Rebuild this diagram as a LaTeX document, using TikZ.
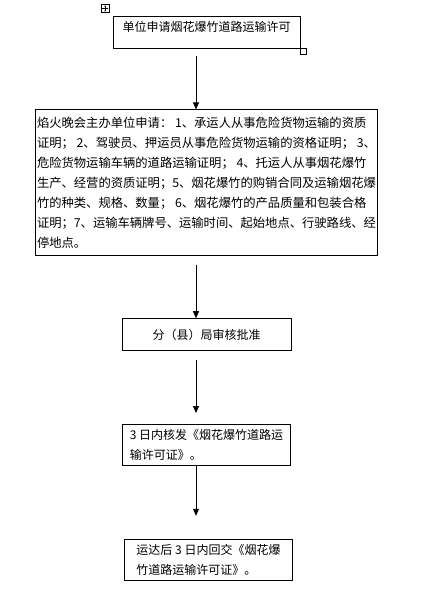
\documentclass[tikz,border=0pt]{standalone}
\usepackage{fontspec}
\setmainfont{Noto Sans CJK SC}
\usepackage{tikz}
\usetikzlibrary{arrows.meta,positioning}
\tikzstyle{process} = [rectangle, draw=black, line width=0.8pt, minimum width=168pt, minimum height=32pt, align=left, inner sep=0pt, font=\fontsize{12}{20}\selectfont]
\tikzstyle{arrow} = [line width=0.8pt,-{Triangle[length=7pt,width=6pt]}]
\tikzstyle{marker} = [rectangle, draw=black, line width=0.6pt, inner sep=0pt, minimum size=6pt]

\begin{document}
\begin{tikzpicture}[x=1pt, y=1pt]
\useasboundingbox (0,0) rectangle (431,-590);
\node (apply) [process, minimum width=187pt, text height=12.5pt, text depth=13.5pt, inner ysep=3pt] at (206.5,-32) {单位申请烟花爆竹道路运输许可};
\node (docs) [process, below=61pt of apply, minimum width=342pt, minimum height=146pt, font=\fontsize{12.3}{20}\selectfont] {焰火晚会主办单位申请：~1、承运人从事危险货物运输的资质\\证明；~2、驾驶员、押运员从事危险货物运输的资格证明；~3、\\危险货物运输车辆的道路运输证明；~4、托运人从事烟花爆竹\\生产、经营的资质证明；5、烟花爆竹的购销合同及运输烟花爆\\竹的种类、规格、数量；~6、烟花爆竹的产品质量和包装合格\\证明；7、运输车辆牌号、运输时间、起始地点、行驶路线、经\\停地点。};
\node (review) [process, below=62pt of docs, minimum width=169pt] {分（县）局审核批准};
\node (issue) [process, below=73pt of review, minimum height=41pt] {3~日内核发《烟花爆竹道路运\\输许可证》。};
\node (return) [process, below=73pt of issue, minimum height=41pt, xshift=2pt] {运达后~3~日内回交《烟花爆\\竹道路运输许可证》。};

% word frame handles
\node (handle) [marker, minimum size=8pt] at (105,-8.5) {};
\draw[line width=0.5pt, {Stealth[length=1.5pt]}-{Stealth[length=1.5pt]}] ([xshift=1pt]handle.west) -- ([xshift=-1pt]handle.east);
\draw[line width=0.5pt, {Stealth[length=1.5pt]}-{Stealth[length=1.5pt]}] ([yshift=-1pt]handle.north) -- ([yshift=1pt]handle.south);
\node (corner) [marker, anchor=north west] at (apply.south east) {};

\coordinate (axis) at (196,0);
\draw[arrow, shorten <=8pt] (apply.south -| axis) -- (docs.north -| axis);
\draw[arrow, shorten <=9pt] (docs.south -| axis) -- (review.north -| axis);
\draw[arrow, shorten <=9pt, shorten >=11pt] (review.south -| axis) -- (issue.north -| axis);
\draw[arrow, shorten >=23pt] (issue.south -| axis) -- (return.north -| axis);
\end{tikzpicture}
\end{document}
